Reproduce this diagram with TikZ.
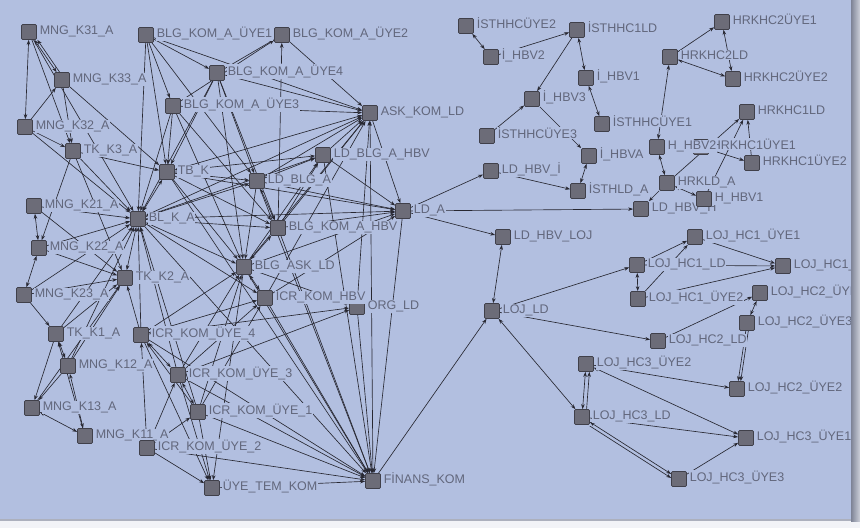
\documentclass[tikz,border=0pt]{standalone}
\usepackage{fontspec}
\setmainfont{Liberation Sans}
\usetikzlibrary{arrows.meta}
\pgfdeclarelayer{bglayer}
\pgfdeclarelayer{edgelayer}
\pgfsetlayers{bglayer,edgelayer,main}
\definecolor{bgc}{RGB}{178,191,224}
\definecolor{nodec}{RGB}{108,108,120}
\definecolor{nodeb}{RGB}{64,64,74}
\definecolor{txtc}{RGB}{98,103,124}
\definecolor{edgec}{RGB}{40,40,50}
\definecolor{frdark}{RGB}{125,131,150}
\definecolor{frlight}{RGB}{205,208,218}
\definecolor{frbot}{RGB}{242,243,247}
\newcommand\nd[4]{\node[nd] (#1) at (#2,#3) {};\node[lbl] (#1l) at ({#2+10},{#3+2.5}) {#4};}
\begin{document}
\begin{tikzpicture}[x=1pt,y=-1pt,
 nd/.style={rectangle,minimum size=15pt,inner sep=0pt,fill=nodec,draw=nodeb,line width=0.7pt,rounded corners=1.2pt},
 lbl/.style={anchor=base west,fill=bgc,inner sep=0.6pt,text=txtc,font=\fontsize{12.5}{14}\selectfont},
 ed/.style={draw=edgec,line width=0.65pt,-{Stealth[length=5pt,width=3.6pt]}},
 eb/.style={draw=edgec,line width=0.65pt,{Stealth[length=5pt,width=3.6pt]}-{Stealth[length=5pt,width=3.6pt]}}]
\useasboundingbox (0,0) rectangle (860,528);
\begin{pgfonlayer}{bglayer}
 \fill[frbot] (0,0) rectangle (860,528);
 \fill[bgc] (0,0) rectangle (851,519);
 \shade[left color=frdark,right color=frlight] (851,0) rectangle (860,521);
 \fill[frdark!60!frbot] (0,519) rectangle (851,521);
\end{pgfonlayer}
\begin{scope}
\clip (0,0) rectangle (850,519);
% left cluster
\nd{K31}{29}{32}{MNG\_K31\_A}
\nd{K33}{62}{80}{MNG\_K33\_A}
\nd{K32}{25}{127}{MNG\_K32\_A}
\nd{TK3}{73}{151}{TK\_K3\_A}
\nd{BU1}{146}{35}{BLG\_KOM\_A\_ÜYE1}
\nd{BU2}{282}{35}{BLG\_KOM\_A\_ÜYE2}
\nd{BU4}{217}{73}{BLG\_KOM\_A\_ÜYE4}
\nd{BU3}{173}{106}{BLG\_KOM\_A\_ÜYE3}
\nd{ASK}{370}{113}{ASK\_KOM\_LD}
\nd{TBK}{167}{172}{TB\_K}
\nd{LBH}{323}{155}{LD\_BLG\_A\_HBV}
\nd{LBA}{257}{181}{LD\_BLG\_A}
\nd{LDA}{403}{211}{LD\_A}
\nd{BLK}{138}{219}{BL\_K\_A}
\nd{K21}{34}{206}{MNG\_K21\_A}
\nd{K22}{39}{248}{MNG\_K22\_A}
\nd{K23}{24}{295}{MNG\_K23\_A}
\nd{TK2}{125}{278}{TK\_K2\_A}
\nd{BHBV}{278}{228}{BLG\_KOM\_A\_HBV}
\nd{BAL}{244}{267}{BLG\_ASK\_LD}
\nd{ORG}{357}{307}{ORG\_LD}
\nd{ICH}{265}{298}{ICR\_KOM\_HBV}
\nd{TK1}{56}{334}{TK\_K1\_A}
\nd{IU4}{141}{335}{ICR\_KOM\_ÜYE\_4}
\nd{K12}{68}{366}{MNG\_K12\_A}
\nd{IU3}{178}{375}{ICR\_KOM\_ÜYE\_3}
\nd{K13}{32}{408}{MNG\_K13\_A}
\nd{IU1}{198}{412}{ICR\_KOM\_ÜYE\_1}
\nd{K11}{85}{436}{MNG\_K11\_A}
\nd{IU2}{147}{448}{ICR\_KOM\_ÜYE\_2}
\nd{UTK}{212}{488}{ÜYE\_TEM\_KOM}
\nd{FIN}{373}{481}{FİNANS\_KOM}
% right cluster
\nd{IUtwo}{466}{26}{İSTHHCÜYE2}
\nd{IH2}{491}{57}{İ\_HBV2}
\nd{ISC}{577}{30}{İSTHHC1LD}
\nd{IH1}{586}{78}{İ\_HBV1}
\nd{IH3}{532}{99}{İ\_HBV3}
\nd{IUthree}{487}{136}{İSTHHCÜYE3}
\nd{IUone}{602}{124}{İSTHHCÜYE1}
\nd{IHA}{589}{156}{İ\_HBVA}
\nd{LHI}{491}{171}{LD\_HBV\_İ}
\nd{ISL}{578}{191}{İSTHLD\_A}
\nd{HCtwoUone}{722}{22}{HRKHC2ÜYE1}
\nd{HCtwoL}{670}{57}{HRKHC2LD}
\nd{HCtwoUtwo}{733}{79}{HRKHC2ÜYE2}
\nd{HConeL}{747}{112}{HRKHC1LD}
\nd{HConeUone}{701}{147}{HRKHC1ÜYE1}
\nd{HB2}{657}{147}{H\_HBV2}
\nd{HConeUtwo}{752}{163}{HRKHC1ÜYE2}
\nd{HLD}{667}{183}{HRKLD\_A}
\nd{LHH}{641}{209}{LD\_HBV\_H}
\nd{HB1}{704}{199}{H\_HBV1}
\nd{LHL}{503}{237}{LD\_HBV\_LOJ}
\nd{LOJ}{492}{311}{LOJ\_LD}
\nd{LHoneUone}{695}{237}{LOJ\_HC1\_ÜYE1}
\nd{LHoneL}{637}{265}{LOJ\_HC1\_LD}
\nd{LHoneUthree}{783}{266}{LOJ\_HC1\_ÜYE3}
\nd{LHoneUtwo}{638}{299}{LOJ\_HC1\_ÜYE2}
\nd{LHtwoUone}{760}{293}{LOJ\_HC2\_ÜYE1}
\nd{LHtwoUthree}{747}{323}{LOJ\_HC2\_ÜYE3}
\nd{LHtwoL}{658}{341}{LOJ\_HC2\_LD}
\nd{LHthreeUtwo}{586}{364}{LOJ\_HC3\_ÜYE2}
\nd{LHtwoUtwo}{737}{389}{LOJ\_HC2\_ÜYE2}
\nd{LHthreeL}{582}{417}{LOJ\_HC3\_LD}
\nd{LHthreeUone}{746}{438}{LOJ\_HC3\_ÜYE1}
\nd{LHthreeUthree}{679}{479}{LOJ\_HC3\_ÜYE3}
\end{scope}
\begin{pgfonlayer}{edgelayer}
\foreach \a/\b in {K31/K32,K31/K33,TBK/BLK,TBK/ASK,BLK/ASK,BLK/BAL,LBA/BHBV,BHBV/BAL,BAL/ICH,K21/K22,K22/K23,TK1/K12,K12/K11,K13/K11,IU4/IU3,IU3/IU1,ASK/FIN,BLK/TK2,
 LHL/LOJ,ISL/IHA,IUtwo/IH2,ISC/IH1,IH1/IUone,HLD/HB2,HLD/HB1,HB2/HCtwoL,HCtwoL/HCtwoUtwo,HCtwoUtwo/HCtwoUone,LOJ/LHthreeL,LHoneL/LHoneUtwo,LHtwoUthree/LHtwoUone,LHthreeUtwo/LHthreeL,LHthreeUtwo/LHthreeUone,LHthreeL/LHthreeUthree}
 \draw[eb] (\a) -- (\b);
\foreach \a/\b in {K32/K33,K32/TK3,K31/TK3,K33/TK3,K33/TBK,K31/BLK,K32/BLK,TK3/TBK,TK3/BLK,TK3/TK2,TK3/K22,
 BU1/TBK,BU1/BU3,BU1/BU4,BU1/ASK,BU1/LBA,BU1/BLK,BU4/BU2,BU3/BU2,BHBV/BU2,BU2/ASK,
 BU4/ASK,BU3/ASK,BU4/BLK,BU3/BLK,BU3/TBK,BU4/TBK,BU4/LBA,BU3/BHBV,BU4/BHBV,BU3/BAL,BU4/BAL,
 TBK/LDA,TBK/LBA,TBK/BAL,TBK/BHBV,TBK/LBH,BLK/LDA,BLK/LBH,BLK/LBA,BLK/BHBV,BLK/ICH,
 LBA/ASK,LBA/LBH,LBA/LDA,LBA/BAL,BHBV/ASK,BHBV/LDA,BHBV/LBH,BAL/ASK,BAL/LDA,BAL/ORG,BAL/LBH,
 ASK/LDA,LBH/LDA,LBH/ASK,ICH/ASK,ORG/ASK,ICH/LDA,
 K21/BLK,K22/BLK,K23/BLK,K21/TK2,K22/TK2,K23/TK2,K23/TK1,TK1/BLK,TK1/TK2,
 TK1/K13,K12/K13,K12/TK2,K12/BLK,K13/TK2,K11/TK1,
 IU4/BLK,IU4/TK2,IU4/BAL,IU4/ICH,IU4/ORG,IU3/BAL,IU3/ICH,IU3/BLK,IU1/BAL,IU1/ICH,IU1/IU4,IU2/IU4,IU2/IU1,IU2/IU3,IU1/BLK,IU3/ORG,
 IU2/UTK,IU1/UTK,IU3/UTK,IU4/UTK,BAL/UTK,
 UTK/FIN,IU2/FIN,IU1/FIN,IU3/FIN,IU4/FIN,ICH/FIN,BAL/FIN,BHBV/FIN,LBA/FIN,LDA/FIN,ORG/FIN,LBH/FIN,TBK/FIN,BLK/FIN,
 LDA/LHI,LDA/LHH,LDA/LHL,LHI/ISL,IH3/IHA,ISC/IH3,IUthree/IH3,IH2/ISC,
 HLD/LHH,HCtwoL/HCtwoUone,HLD/HConeL,HB1/HConeL,HConeUtwo/HConeL,HConeUone/HConeUtwo,
 FIN/LOJ,LOJ/LHoneL,LOJ/LHtwoL,LHoneL/LHoneUone,LHoneUtwo/LHoneUone,LHoneUone/LHoneUthree,LHoneL/LHoneUthree,LHoneUtwo/LHoneUthree,
 LHtwoL/LHtwoUone,LHtwoUthree/LHtwoUtwo,LHthreeUtwo/LHtwoUtwo,LHthreeL/LHthreeUone,LHthreeUthree/LHthreeUone}
 \draw[ed] (\a) -- (\b);
\draw[ed,transform canvas={xshift=3pt}] (K33) -- (K31);
\draw[ed,transform canvas={xshift=2.5pt}] (LHtwoUthree) -- (LHtwoUtwo);
\draw[ed,transform canvas={xshift=4pt}] (LHthreeL) -- (LHthreeUtwo);
\draw[ed,transform canvas={yshift=-4pt}] (LHthreeL) -- (LHthreeUthree);
\end{pgfonlayer}
\end{tikzpicture}
\end{document}
